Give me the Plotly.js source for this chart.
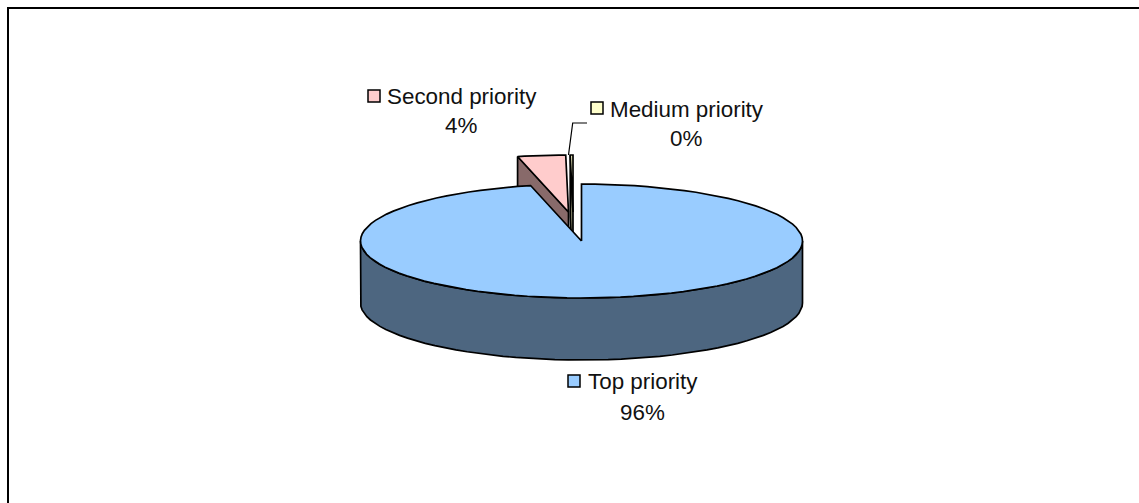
<!DOCTYPE html>
<html><head><meta charset="utf-8">
<script src="https://cdn.plot.ly/plotly-3.0.1.min.js"></script>
<style>html,body{margin:0;padding:0;background:#fff}#c{width:1139px;height:503px}</style>
</head><body><div id="c"></div>
<script>
// Data
const categories = ['Top priority', 'Second priority', 'Medium priority'];
const values = [96.3, 3.5, 0.2];

// Styles
const topColors = ['#99CCFF', '#FFCCCC', '#FFFFCC'];
const wallColors = ['#4D6680', '#886A6A', '#808066'];

// Geometry of the tilted pie (pixel-like axis units)
const cx = 581.5, cy = 241, rx = 221, ry = 57, depth = 62;
const offsets = [[0, 0], [-13, -29], [-8.5, -29]];

function rim(c, deg) {
  const t = deg * Math.PI / 180;
  return [c[0] + rx * Math.sin(t), c[1] - ry * Math.cos(t)];
}
function arc(c, a, b, step) {
  const pts = [];
  const n = Math.max(1, Math.ceil((b - a) / step));
  for (let i = 0; i <= n; i++) pts.push(rim(c, a + (b - a) * i / n));
  return pts;
}
function poly(pts, fill, name) {
  const xs = pts.map(p => p[0]), ys = pts.map(p => p[1]);
  xs.push(xs[0]); ys.push(ys[0]);
  return {type: 'scatter', mode: 'lines', x: xs, y: ys, fill: 'toself', fillcolor: fill,
    line: {color: '#000', width: 1.7}, hoverinfo: 'skip', name: name, showlegend: false};
}

const total = values.reduce((a, b) => a + b, 0);
let acc = 0;
const slices = values.map((v, i) => {
  const s = acc / total * 360; acc += v; const e = acc / total * 360;
  return {i, s, e, c: [cx + offsets[i][0], cy + offsets[i][1]]};
});

const traces = [];
// exploded slices first, then the main body on top
[1, 2, 0].forEach(k => {
  const S = slices[k];
  if (k !== 0) {
    const down = p => [p[0], p[1] + depth];
    const r = rim(S.c, S.s);
    traces.push(poly([r, S.c, down(S.c), down(r)], wallColors[k], categories[k] + ' side'));
    traces.push(poly([S.c].concat(arc(S.c, S.s, S.e, 2)), topColors[k], categories[k]));
  } else {
    // front wall: the lower half of the rim, dropped by the depth
    const front = arc(S.c, 90, 270, 3.5);
    const drop = front.slice().reverse().map(p => [p[0], p[1] + depth]);
    traces.push(poly(front.concat(drop), wallColors[0], categories[0] + ' side'));
    traces.push(poly([S.c].concat(arc(S.c, S.s, S.e, 3.5)), topColors[0], categories[0]));
  }
});

// Leader line, frame
const line = (x, y, w) => ({type: 'scatter', mode: 'lines', x, y, line: {color: '#000', width: w},
  hoverinfo: 'skip', showlegend: false});
traces.push(line([587, 572.7, 568.5], [123, 123, 155], 1.2));
traces.push(line([8, 8, 1139], [503, 8, 8], 2));

// Labels
const labelPos = [
  {key: [574, 381], name: [586, 381], pct: [642, 412]},
  {key: [374, 96], name: [385, 96], pct: [461, 125]},
  {key: [597, 108], name: [608, 109], pct: [686, 138]}
];
traces.push({type: 'scatter', mode: 'markers', x: labelPos.map(p => p.key[0]), y: labelPos.map(p => p.key[1]),
  marker: {symbol: 'square', size: 12, color: topColors, line: {color: '#000', width: 1.5}},
  hoverinfo: 'skip', showlegend: false});

const font = {family: '"Liberation Sans", Arial, sans-serif', size: 22.4, color: '#111'};
const annotations = [];
categories.forEach((c, i) => {
  annotations.push({xref: 'x', yref: 'y', x: labelPos[i].name[0], y: labelPos[i].name[1], text: c,
    showarrow: false, xanchor: 'left', yanchor: 'middle', font});
  annotations.push({xref: 'x', yref: 'y', x: labelPos[i].pct[0], y: labelPos[i].pct[1],
    text: Math.round(values[i]) + '%', showarrow: false, xanchor: 'center', yanchor: 'middle', font});
});

Plotly.newPlot('c', traces, {
  width: 1139, height: 503, margin: {l: 0, r: 0, t: 0, b: 0},
  paper_bgcolor: '#fff', plot_bgcolor: '#fff', showlegend: false,
  xaxis: {range: [0, 1139], visible: false, fixedrange: true},
  yaxis: {range: [503, 0], visible: false, fixedrange: true},
  annotations
}, {displayModeBar: false, staticPlot: true});
</script></body></html>
